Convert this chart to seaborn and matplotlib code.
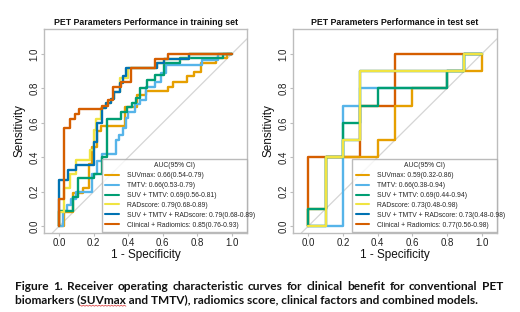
import numpy as np
import pandas as pd
import matplotlib
matplotlib.use("Agg")
import matplotlib.pyplot as plt
import seaborn as sns
from matplotlib.lines import Line2D

sns.set_theme(style="white")
plt.rcParams['font.family'] = ['Liberation Sans', 'DejaVu Sans']

# ---------------- data ----------------
model_names = ["SUVmax", "TMTV", "SUV + TMTV", "RADscore",
               "SUV + TMTV + RADscore", "Clinical + Radiomics"]
model_colors = ["#E69F00", "#56B4E9", "#009E73", "#F0E442", "#0072B2", "#D55E00"]

train_auc = ["0.66(0.54-0.79)", "0.66(0.53-0.79)", "0.69(0.56-0.81)",
             "0.79(0.68-0.89)", "0.79(0.68-0.89)", "0.85(0.76-0.93)"]
test_auc = ["0.59(0.32-0.86)", "0.66(0.38-0.94)", "0.69(0.44-0.94)",
            "0.73(0.48-0.98)", "0.73(0.48-0.98)", "0.77(0.56-0.98)"]

# training set ROC vertices (1 - specificity, sensitivity)
tr_suvmax_fpr = [0, 0.03, 0.03, 0.08, 0.08, 0.14, 0.14, 0.17, 0.17, 0.19, 0.19, 0.22, 0.22, 0.24, 0.24,
                 0.38, 0.38, 0.45, 0.45, 0.50, 0.50, 0.63, 0.63, 0.66, 0.66, 0.74, 0.74, 0.78, 0.78,
                 0.82, 0.82, 0.91, 0.91, 0.97, 0.97, 1.0]
tr_suvmax_tpr = [0, 0, 0.08, 0.08, 0.19, 0.19, 0.22, 0.22, 0.36, 0.36, 0.46, 0.46, 0.55, 0.55, 0.58,
                 0.58, 0.69, 0.69, 0.76, 0.76, 0.785, 0.785, 0.81, 0.81, 0.84, 0.84, 0.87, 0.87, 0.895,
                 0.895, 0.945, 0.945, 0.975, 0.975, 1.0, 1.0]

tr_tmtv_fpr = [0, 0.02, 0.02, 0.045, 0.045, 0.07, 0.07, 0.10, 0.10, 0.19, 0.19, 0.22, 0.22, 0.25, 0.25,
               0.33, 0.33, 0.345, 0.345, 0.37, 0.37, 0.385, 0.385, 0.40, 0.40, 0.44, 0.44, 0.47, 0.47,
               0.50, 0.50, 0.555, 0.555, 0.59, 0.59, 0.62, 0.62, 0.83, 0.83, 0.92, 0.92, 1.0]
tr_tmtv_tpr = [0, 0, 0.09, 0.09, 0.12, 0.12, 0.16, 0.16, 0.20, 0.20, 0.30, 0.30, 0.38, 0.38, 0.42,
               0.42, 0.50, 0.50, 0.53, 0.53, 0.57, 0.57, 0.63, 0.63, 0.66, 0.66, 0.71, 0.71, 0.73,
               0.73, 0.81, 0.81, 0.84, 0.84, 0.89, 0.89, 0.935, 0.935, 0.965, 0.965, 1.0, 1.0]

tr_suvtmtv_fpr = [0, 0, 0.08, 0.08, 0.11, 0.11, 0.20, 0.20, 0.25, 0.25, 0.275, 0.275, 0.36, 0.36, 0.39,
                  0.39, 0.42, 0.42, 0.445, 0.445, 0.47, 0.47, 0.51, 0.51, 0.555, 0.555, 0.61, 0.61,
                  0.70, 0.70, 0.95, 0.95, 1.0]
tr_suvtmtv_tpr = [0, 0.09, 0.09, 0.17, 0.17, 0.28, 0.28, 0.30, 0.30, 0.40, 0.40, 0.625, 0.625, 0.66, 0.66,
                  0.69, 0.69, 0.715, 0.715, 0.745, 0.745, 0.80, 0.80, 0.85, 0.85, 0.88, 0.88, 0.945,
                  0.945, 0.975, 0.975, 1.0, 1.0]

tr_rad_fpr = [0, 0, 0.03, 0.03, 0.06, 0.06, 0.10, 0.10, 0.18, 0.18, 0.20, 0.20, 0.215, 0.215, 0.24, 0.24,
              0.27, 0.27, 0.30, 0.30, 0.32, 0.32, 0.35, 0.35, 0.40, 0.40, 0.565, 0.565, 0.61, 0.61,
              0.75, 0.75, 1.0]
tr_rad_tpr = [0, 0.08, 0.08, 0.22, 0.22, 0.30, 0.30, 0.385, 0.385, 0.44, 0.44, 0.56, 0.56, 0.62, 0.62,
              0.685, 0.685, 0.715, 0.715, 0.74, 0.74, 0.78, 0.78, 0.86, 0.86, 0.92, 0.92, 0.945, 0.945,
              0.97, 0.97, 1.0, 1.0]

tr_comb_fpr = [0, 0, 0.05, 0.05, 0.10, 0.10, 0.20, 0.20, 0.22, 0.22, 0.25, 0.25, 0.27, 0.27, 0.30, 0.30,
               0.32, 0.32, 0.35, 0.35, 0.37, 0.37, 0.385, 0.385, 0.565, 0.565, 0.61, 0.61, 0.75, 0.75, 1.0]
tr_comb_tpr = [0, 0.27, 0.27, 0.325, 0.325, 0.355, 0.355, 0.49, 0.49, 0.60, 0.60, 0.685, 0.685, 0.715,
               0.715, 0.74, 0.74, 0.78, 0.78, 0.83, 0.83, 0.87, 0.87, 0.92, 0.92, 0.945, 0.945, 0.97,
               0.97, 1.0, 1.0]

tr_clin_fpr = [0, 0, 0.03, 0.03, 0.06, 0.06, 0.09, 0.09, 0.115, 0.115, 0.25, 0.25, 0.28, 0.28, 0.31, 0.31,
               0.36, 0.36, 0.415, 0.415, 0.555, 0.555, 0.63, 0.63, 1.0]
tr_clin_tpr = [0, 0.16, 0.16, 0.57, 0.57, 0.625, 0.625, 0.65, 0.65, 0.68, 0.68, 0.70, 0.70, 0.73, 0.73,
               0.81, 0.81, 0.835, 0.835, 0.92, 0.92, 0.97, 0.97, 1.0, 1.0]

# test set ROC vertices
te_suvmax_fpr = [0, 0, 0.1, 0.1, 0.4, 0.4, 0.5, 0.5, 0.6, 0.6, 0.8, 0.8, 1.0, 1.0]
te_suvmax_tpr = [0, 0.1, 0.1, 0.4, 0.4, 0.5, 0.5, 0.7, 0.7, 0.8, 0.8, 0.9, 0.9, 1.0]

te_tmtv_fpr = [0, 0.2, 0.2, 0.3, 0.3, 0.8, 0.8, 0.9, 0.9, 1.0]
te_tmtv_tpr = [0, 0, 0.7, 0.7, 0.8, 0.8, 0.9, 0.9, 1.0, 1.0]

te_suvtmtv_fpr = [0, 0, 0.1, 0.1, 0.2, 0.2, 0.3, 0.3, 0.4, 0.4, 0.8, 0.8, 0.9, 0.9, 1.0]
te_suvtmtv_tpr = [0, 0.1, 0.1, 0.4, 0.4, 0.6, 0.6, 0.7, 0.7, 0.8, 0.8, 0.9, 0.9, 1.0, 1.0]

te_rad_fpr = [0, 0.1, 0.1, 0.2, 0.2, 0.3, 0.3, 0.9, 0.9, 1.0]
te_rad_tpr = [0, 0, 0.4, 0.4, 0.5, 0.5, 0.9, 0.9, 1.0, 1.0]

te_comb_fpr = [0, 0.1, 0.1, 0.2, 0.2, 0.3, 0.3, 0.9, 0.9, 1.0]
te_comb_tpr = [0, 0, 0.4, 0.4, 0.5, 0.5, 0.9, 0.9, 1.0, 1.0]

te_clin_fpr = [0, 0, 0.3, 0.3, 0.5, 0.5, 1.0]
te_clin_tpr = [0, 0.4, 0.4, 0.7, 0.7, 1.0, 1.0]

tick_vals = [0.0, 0.2, 0.4, 0.6, 0.8, 1.0]
tick_labels = ["0.0", "0.2", "0.4", "0.6", "0.8", "1.0"]

panel_titles = ["PET Parameters Performance in training set",
                "PET Parameters Performance in test set"]
legend_title = "AUC(95% CI)"
x_label = "1 - Specificity"
y_label = "Sensitivity"
caption1 = ("Figure 1. Receiver operating characteristic curves for clinical benefit for "
            "conventional PET")
caption2 = ("biomarkers (SUVmax and TMTV), radiomics score, clinical factors and combined models.")

train_curves = [(tr_suvmax_fpr, tr_suvmax_tpr), (tr_tmtv_fpr, tr_tmtv_tpr),
                (tr_suvtmtv_fpr, tr_suvtmtv_tpr), (tr_rad_fpr, tr_rad_tpr),
                (tr_comb_fpr, tr_comb_tpr), (tr_clin_fpr, tr_clin_tpr)]
test_curves = [(te_suvmax_fpr, te_suvmax_tpr), (te_tmtv_fpr, te_tmtv_tpr),
               (te_suvtmtv_fpr, te_suvtmtv_tpr), (te_rad_fpr, te_rad_tpr),
               (te_comb_fpr, te_comb_tpr), (te_clin_fpr, te_clin_tpr)]

# ---------------- figure ----------------
W, H, DPI = 520, 312, 100
fig = plt.figure(figsize=(W / DPI, H / DPI), dpi=DPI)
fig.patch.set_facecolor("white")

def px_rect(l, t, r, b):
    return [l / W, 1 - b / H, (r - l) / W, (b - t) / H]

ax_tr = fig.add_axes(px_rect(44, 29, 247, 233))
ax_te = fig.add_axes(px_rect(293, 29, 497, 233))

frame_col = "#BDBDBD"
draw_orders = [[0, 1, 2, 3, 4, 5], [5, 4, 0, 1, 2, 3]]
legend_left = [0.286, 0.29]

for p, (ax, curves, aucs) in enumerate([(ax_tr, train_curves, train_auc),
                                         (ax_te, test_curves, test_auc)]):
    ax.set_facecolor("white")
    ax.axline((0, 0), (1, 1), color="#D5D5D5", lw=0.9, zorder=1)
    for k, i in enumerate(draw_orders[p]):
        fpr, tpr = curves[i]
        df = pd.DataFrame({"fpr": fpr, "tpr": tpr})
        sns.lineplot(data=df, x="fpr", y="tpr", sort=False, estimator=None,
                     color=model_colors[i], lw=1.7, ax=ax, legend=False, zorder=3 + k)
    ax.set_xlim(-0.088, 1.088)
    ax.set_ylim(-0.04, 1.145)
    ax.set_xticks(tick_vals)
    ax.set_xticklabels(tick_labels)
    ax.set_yticks(tick_vals)
    ax.set_yticklabels(tick_labels, rotation=90, va="center")
    ax.tick_params(axis="both", labelsize=7, colors="#222222", length=2.5, width=0.8,
                   direction="out", pad=1.0, left=True, bottom=True)
    ax.tick_params(axis="both", color=frame_col)
    for s in ax.spines.values():
        s.set_color(frame_col)
        s.set_linewidth(1.0)
    ax.set_xlabel(x_label, fontsize=8.5, color="#111111")
    ax.set_ylabel(y_label, fontsize=8.5, color="#111111")
    ax.xaxis.set_label_coords(0.5, -0.078)
    ax.yaxis.set_label_coords(-0.09, 0.5)
    ax.set_title(panel_titles[p], fontsize=6.3, fontweight="bold", pad=3, color="#111111")

    handles = [Line2D([], [], color=model_colors[i], lw=1.5) for i in range(6)]
    labels = [f"{model_names[i]}: {aucs[i]}" for i in range(6)]
    lg = ax.legend(handles, labels, title=legend_title, loc="lower left",
                   bbox_to_anchor=(legend_left[p], 0.005, 1 - legend_left[p], 0.36),
                   mode="expand", borderaxespad=0, fontsize=4.9, title_fontsize=4.9,
                   handlelength=2.0, handletextpad=1.2, labelspacing=0.42,
                   borderpad=0.5, frameon=True, fancybox=False, alignment="center")
    lg.get_frame().set_edgecolor("#AAAAAA")
    lg.get_frame().set_linewidth(1.0)
    lg.set_zorder(20)

# ---------------- caption (justified first line) ----------------
cap_family = ["Lato", "DejaVu Sans"]
renderer = fig.canvas.get_renderer()

def text_width(s, fs):
    t = fig.text(0, 0, s, fontsize=fs, fontweight="bold", family=cap_family)
    w = t.get_window_extent(renderer).width
    t.remove()
    return w

line2_target = 468.0
fs = 10.0 * line2_target / text_width(caption2, 10.0)

left_px, right_px = 15.0, 503.0
base1, base2 = 289.5, 303.0
words = caption1.split(" ")
ww = [text_width(w, fs) for w in words]
gap = (right_px - left_px - sum(ww)) / (len(words) - 1)
x = left_px
for w, wd in zip(words, ww):
    fig.text(x / W, 1 - base1 / H, w, fontsize=fs, fontweight="bold", family=cap_family,
             ha="left", va="baseline", color="#111111")
    x += wd + gap
fig.text(left_px / W, 1 - base2 / H, caption2, fontsize=fs, fontweight="bold",
         family=cap_family, ha="left", va="baseline", color="#111111")

# spell-check squiggle under "SUVmax"
pre = text_width("biomarkers (", fs)
sw = text_width("SUVmax", fs)
xs0 = left_px + pre
n = max(int(sw / 1.5), 2)
xs = np.linspace(xs0, xs0 + sw, n)
ys = base2 + 2.2 + np.where(np.arange(n) % 2 == 0, 0.0, 1.0)
fig.add_artist(Line2D(xs / W, 1 - ys / H, color="#E05050", lw=0.6, transform=fig.transFigure))

fig.savefig("out.png", dpi=DPI, facecolor="white")
